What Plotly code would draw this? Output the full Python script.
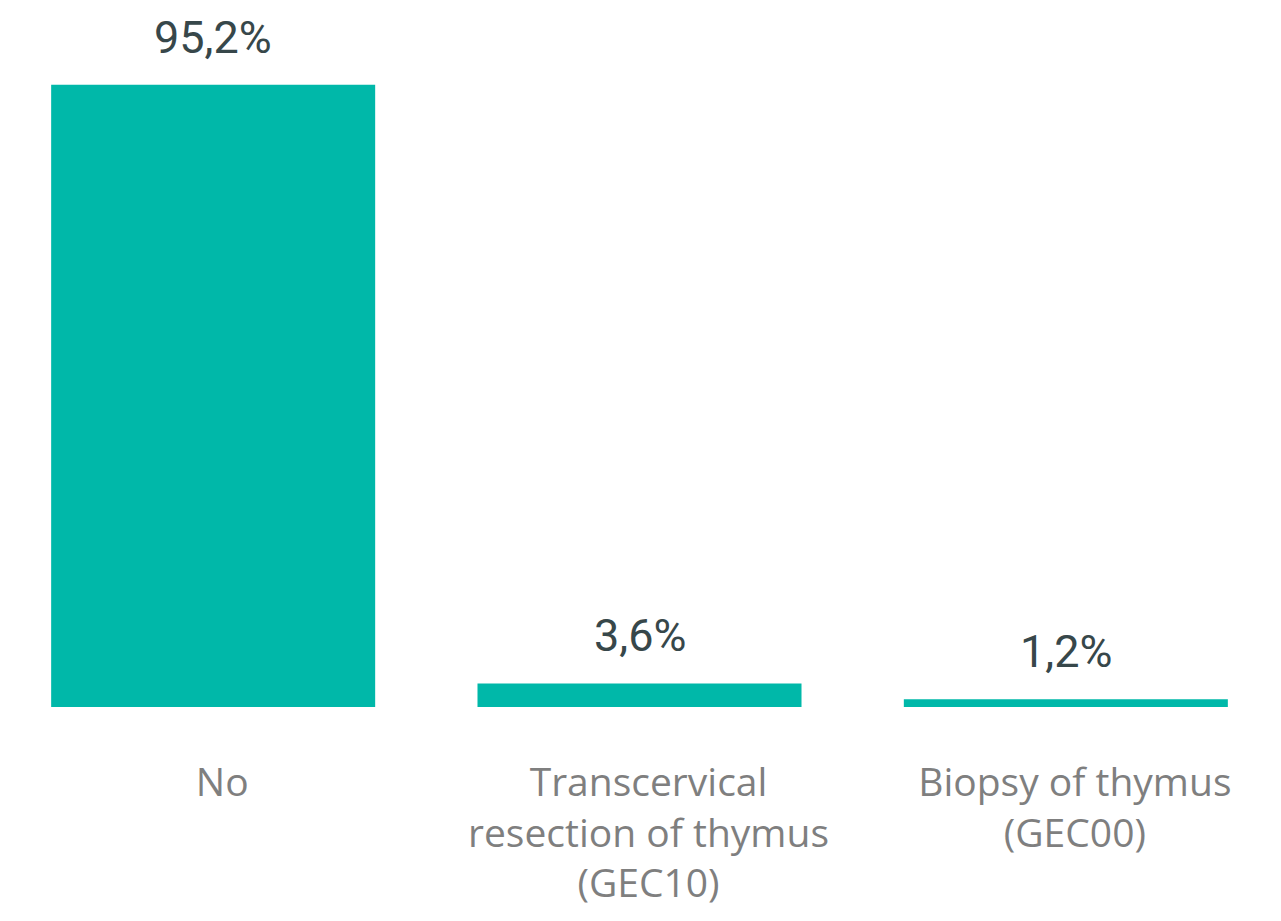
import plotly.graph_objects as go

categories = ["No", "Transcervical<br>resection of thymus<br>(GEC10)", "Biopsy of thymus<br>(GEC00)"]
values = [95.2, 3.6, 1.2]
value_labels = ["95,2%", "3,6%", "1,2%"]

bar_color = "#00b8a9"
label_color = "#37474a"
tick_color = "#7f7f7f"

fig = go.Figure(
    go.Bar(
        x=categories,
        y=values,
        marker={"color": bar_color, "line": {"width": 0}},
        hoverinfo="skip",
    )
)

# value labels above the bars
for cat, val, lab in zip(categories, values, value_labels):
    fig.add_annotation(
        x=cat,
        y=val,
        text=lab,
        showarrow=False,
        yanchor="bottom",
        yshift=19,
        font={"family": "Roboto", "size": 45, "color": label_color},
    )

fig.update_layout(
    width=1281,
    height=921,
    margin={"l": 0, "r": 2, "t": 20, "b": 214},
    plot_bgcolor="white",
    paper_bgcolor="white",
    bargap=0.24,
    showlegend=False,
    xaxis={
        "showgrid": False,
        "showline": False,
        "zeroline": False,
        "ticks": "outside",
        "ticklen": 41,
        "tickcolor": "rgba(0,0,0,0)",
        "ticklabelshift": 9,
        "tickfont": {"family": "Open Sans", "size": 39, "color": tick_color},
    },
    yaxis={
        "visible": False,
        "range": [0, 105.1],
    },
)

# page has a default body margin, drop it so the chart fills the window
fig.write_html(
    "out.html",
    config={"displayModeBar": False},
    post_script="document.body.style.margin='0';",
)
